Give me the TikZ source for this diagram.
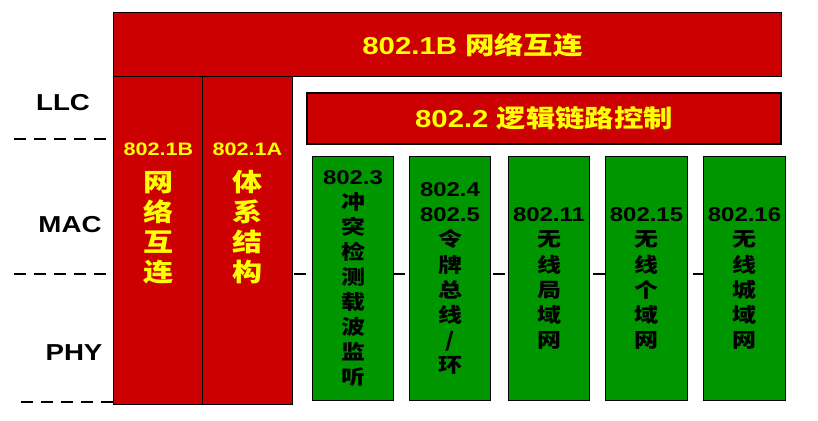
\documentclass[tikz,border=0pt]{standalone}
\usepackage{fontspec}
\setmainfont{Liberation Sans}[FakeStretch=1.2]
\newfontfamily\cjk{Noto Sans CJK SC}[FakeStretch=1.2]
\usetikzlibrary{positioning}
\definecolor{stdred}{RGB}{204,0,0}
\definecolor{stdgreen}{RGB}{0,150,0}
\definecolor{stdyellow}{RGB}{255,255,0}

\begin{document}
\begin{tikzpicture}[
  x=0.025cm, y=-0.025cm,
  redbox/.style={draw=black, line width=0.7pt, fill=stdred, inner sep=0pt, outer sep=0pt, text=stdyellow, font=\bfseries\fontsize{17.4}{21}\selectfont},
  colbox/.style={redbox, minimum width=2.225cm, minimum height=8.19cm},
  greenbox/.style={draw=black, line width=0.7pt, fill=stdgreen, inner sep=0pt, minimum width=2.04cm, minimum height=6.075cm, align=center, font=\bfseries\fontsize{14.2}{17.8}\selectfont},
  toptext/.style={anchor=center, inner sep=0pt, text=stdyellow, font=\bfseries\fontsize{17.4}{21}\selectfont},
  coltext/.style={anchor=north, yshift=-1.66cm, inner sep=0pt, align=center, text=stdyellow, font=\bfseries\fontsize{17.8}{21.3}\selectfont},
  layername/.style={font=\bfseries\fontsize{16.4}{20}\selectfont},
  sepline/.style={dashed, dash pattern=on 8.5pt off 5.7pt, line width=1.4pt}
]
  \useasboundingbox (0,0) rectangle (818,421);

  % layer borders
  \draw[sepline] (14,139) -- (114,139);
  \draw[sepline] (14,274) -- (785,274);
  \draw[sepline] (21,402) -- (114,402);

  \node[layername] (llc) at (63,102.5) {LLC};
  \node[layername] (mac) at (70,224.5) {MAC};
  \node[layername] (phy) at (74,353) {PHY};

  \node[redbox, minimum width=16.675cm, minimum height=1.5875cm,
    label={[toptext, xshift=0.625cm]center:{802.1B \cjk 网络互连}}] (bridge) at (447.5,44.75) {};
  \node[redbox, line width=1.4pt, minimum width=11.85cm, minimum height=1.275cm] (llcctl) at (544,118.5) {802.2 {\cjk 逻辑链路控制}};

  \node[colbox, label={[coltext]north:{{\fontsize{12.8}{15}\selectfont 802.1B}\\[4.3pt]\cjk 网\\\cjk 络\\\cjk 互\\\cjk 连}}] (interconn) at (158.5,240.25) {};
  \node[colbox, label={[coltext]north:{{\fontsize{12.8}{15}\selectfont 802.1A}\\[4.3pt]\cjk 体\\\cjk 系\\\cjk 结\\\cjk 构}}] (arch) at (247.5,240.25) {};

  % MAC/PHY standards
  \node[greenbox] (csma) at (353,278.5) {802.3\\\cjk 冲\\\cjk 突\\\cjk 检\\\cjk 测\\\cjk 载\\\cjk 波\\\cjk 监\\\cjk 听};
  \node[greenbox] (token) at (450,278.5) {802.4\\802.5\\\cjk 令\\\cjk 牌\\\cjk 总\\\cjk 线\\\cjk /\\\cjk 环};
  \node[greenbox] (wlan) at (549,278.5) {802.11\\\cjk 无\\\cjk 线\\\cjk 局\\\cjk 域\\\cjk 网};
  \node[greenbox] (wpan) at (646.5,278.5) {802.15\\\cjk 无\\\cjk 线\\\cjk 个\\\cjk 域\\\cjk 网};
  \node[greenbox] (wman) at (744.5,278.5) {802.16\\\cjk 无\\\cjk 线\\\cjk 城\\\cjk 域\\\cjk 网};
\end{tikzpicture}
\end{document}
